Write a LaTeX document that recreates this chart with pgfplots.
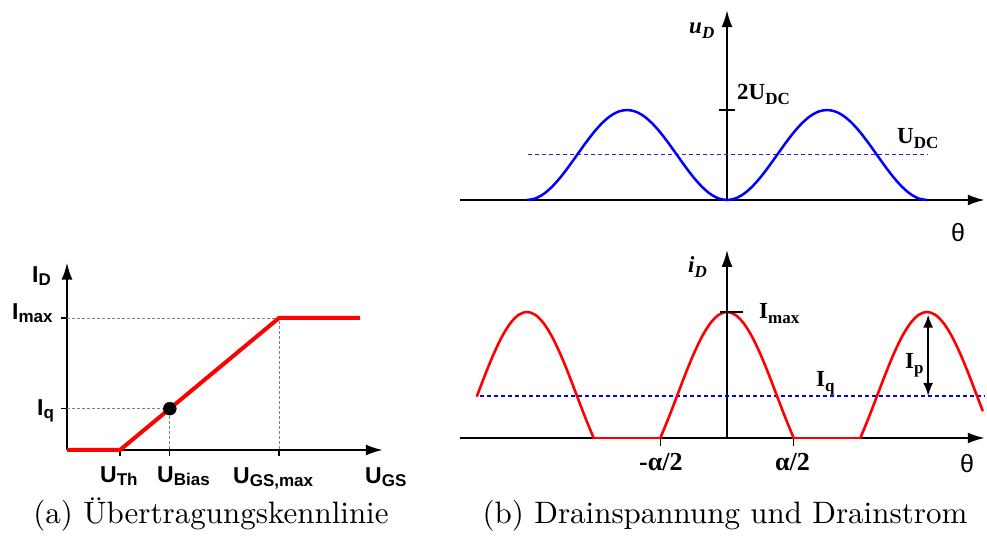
\documentclass[border=0pt]{standalone}
\usepackage{fontspec}
\usepackage{pgfplots}
\pgfplotsset{compat=1.18}
\usetikzlibrary{arrows.meta}
\newfontfamily\sansf{Liberation Sans}
\newfontfamily\serf{Liberation Serif}
\newfontfamily\capf{lmroman10-regular}[Extension=.otf]
\newcommand\LL[2]{{\sansf\bfseries\fontsize{23}{23}\selectfont #1\raisebox{-3pt}{\fontsize{17}{17}\selectfont #2}}}
\newcommand\RL[2]{{\serf\bfseries\fontsize{23}{23}\selectfont #1\raisebox{-5pt}{\fontsize{17}{17}\selectfont #2}}}
\newcommand\RI[2]{{\serf\bfseries\itshape\fontsize{23}{23}\selectfont #1\raisebox{-5pt}{\fontsize{17}{17}\selectfont #2}}}
\definecolor{udc}{RGB}{40,40,200}
\definecolor{iq}{RGB}{0,0,255}
\pgfplotsset{myax/.style={axis lines=middle,
  axis line style={line width=2.2pt, -{Latex[length=17pt,width=11pt]}},
  clip=false, anchor=origin, xticklabels={}, yticklabels={},
  tick style={black}}}
\begin{document}
\begin{tikzpicture}
\useasboundingbox (0,0) rectangle (987pt,540pt);
% (a)
\begin{axis}[myax, at={(67pt,90pt)}, x=53pt, y=132pt,
  xmin=0, xmax=5.96, ymin=0, ymax=1.42,
  xtick={1,1.94,4}, ytick={0.313,1}, tick align=outside,
  major tick length=6pt, tick style={line width=1.2pt}]
\addplot[gray, line width=0.7pt, dash pattern=on 3pt off 2pt] coordinates {(0,1) (4,1) (4,0)};
\addplot[gray, line width=0.7pt, dash pattern=on 3pt off 2pt] coordinates {(0,0.313) (1.94,0.313) (1.94,0)};
\addplot[red, line width=4pt] coordinates {(0,0) (1,0) (4,1) (5.53,1)};
\addplot[only marks, mark=*, mark size=6.5pt, black] coordinates {(1.94,0.313)};
\end{axis}
% (b) top
\begin{axis}[myax, at={(727pt,340pt)}, x=0.5556pt, y=45pt,
  xmin=-480, xmax=464, ymin=0, ymax=4.22,
  xtick=\empty, ytick={2}, tick align=center,
  major tick length=16pt, tick style={line width=1.5pt}]
\addplot[udc, line width=1pt, dash pattern=on 4pt off 3pt] coordinates {(-358,1) (362,1)};
\addplot[blue, line width=2.5pt, smooth] coordinates {
(-360,0) (-345,0.0341) (-330,0.134) (-315,0.2929) (-300,0.5) (-285,0.7412) (-270,1) (-255,1.2588) (-240,1.5) (-225,1.7071) (-210,1.866) (-195,1.9659) (-180,2)
(-165,1.9659) (-150,1.866) (-135,1.7071) (-120,1.5) (-105,1.2588) (-90,1) (-75,0.7412) (-60,0.5) (-45,0.2929) (-30,0.134) (-15,0.0341) (0,0)
(15,0.0341) (30,0.134) (45,0.2929) (60,0.5) (75,0.7412) (90,1) (105,1.2588) (120,1.5) (135,1.7071) (150,1.866) (165,1.9659) (180,2)
(195,1.9659) (210,1.866) (225,1.7071) (240,1.5) (255,1.2588) (270,1) (285,0.7412) (300,0.5) (315,0.2929) (330,0.134) (345,0.0341) (360,0)};
\end{axis}
% (b) bottom
\begin{axis}[myax, at={(727pt,102pt)}, x=0.5556pt, y=84pt,
  xmin=-480, xmax=464, ymin=0, ymax=2.24,
  xtick={-120,120}, ytick=\empty, tick align=outside,
  major tick length=8pt, tick style={line width=1.5pt}]
\addplot[color=iq, line width=1.2pt, dash pattern=on 4pt off 3pt] coordinates {(-445,0.5) (464,0.5)};
\addplot[red, line width=2.6pt, line cap=round] coordinates {(-240,0) (-120,0)};
\addplot[red, line width=2.6pt, line cap=round] coordinates {(120,0) (240,0)};
\addplot[red, line width=2.6pt, smooth, line cap=round] coordinates {
(-450,0.5) (-435,0.7588) (-420,1.0) (-405,1.2071) (-390,1.366) (-375,1.4659) (-360,1.5) (-345,1.4659) (-330,1.366) (-315,1.2071) (-300,1.0) (-285,0.7588) (-270,0.5) (-255,0.2412) (-240,0)};
\addplot[red, line width=2.6pt, smooth, line cap=round] coordinates {
(-120,0) (-105,0.2412) (-90,0.5) (-75,0.7588) (-60,1.0) (-45,1.2071) (-30,1.366) (-15,1.4659) (0,1.5) (15,1.4659) (30,1.366) (45,1.2071) (60,1.0) (75,0.7588) (90,0.5) (105,0.2412) (120,0)};
\addplot[red, line width=2.6pt, smooth, line cap=round] coordinates {
(240,0) (255,0.2412) (270,0.5) (285,0.7588) (300,1.0) (315,1.2071) (330,1.366) (345,1.4659) (360,1.5) (375,1.4659) (390,1.366) (405,1.2071) (420,1.0) (435,0.7588) (450,0.5) (460,0.3264)};
\addplot[black, line width=1.8pt] coordinates {(-12,1.5) (28,1.5)};
\addplot[black, line width=2pt, {Latex[length=13pt,width=10pt]}-{Latex[length=13pt,width=10pt]}] coordinates {(362,1.47) (362,0.5)};
\end{axis}
% labels (a)
\begin{scope}[every node/.style={inner sep=0pt, anchor=base west}]
\node at (32pt,257pt) {\LL{I}{D}};
\node at (12pt,220pt) {\LL{I}{max}};
\node at (37pt,124pt) {\LL{I}{q}};
\node at (100pt,57pt) {\LL{U}{Th}};
\node at (157pt,57pt) {\LL{U}{Bias}};
\node at (233pt,56pt) {\LL{U}{GS,max}};
\node at (365pt,56pt) {\LL{U}{GS}};
% labels (b)
\node at (689pt,506pt) {\RI{u}{D}};
\node at (737pt,440pt) {\RL{2U}{DC}};
\node at (897pt,396pt) {\RL{U}{DC}};
\node at (688pt,267pt) {\RI{i}{D}};
\node at (759pt,221pt) {\RL{I}{max}};
\node at (816pt,153pt) {\RL{I}{q}};
\node at (905pt,171pt) {\RL{I}{p}};
\node at (639pt,69pt) {{\serf\bfseries\fontsize{26}{26}\selectfont -α/2}};
\node at (775pt,69pt) {{\serf\bfseries\fontsize{26}{26}\selectfont α/2}};
\end{scope}
\node[inner sep=0pt] at (958pt,307pt) {\sansf\fontsize{25}{25}\selectfont θ};
\node[inner sep=0pt] at (967pt,76pt) {\sansf\fontsize{25}{25}\selectfont θ};
% captions
\node[inner sep=0pt, anchor=base] at (211pt,16pt) {\capf\fontsize{31}{36}\selectfont (a) Übertragungskennlinie};
\node[inner sep=0pt, anchor=base] at (725pt,16pt) {\capf\fontsize{31}{36}\selectfont (b) Drainspannung und Drainstrom};
\end{tikzpicture}
\end{document}
